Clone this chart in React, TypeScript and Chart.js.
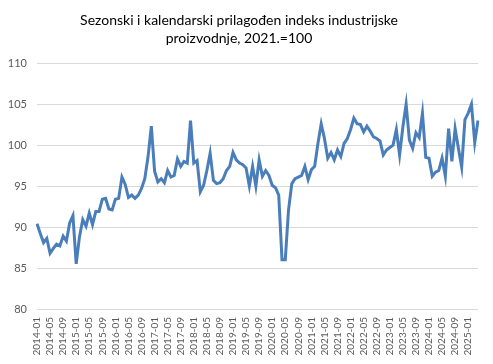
import React, { useEffect, useRef } from "react";
import { Chart, registerables } from "chart.js";

Chart.register(...registerables);

const titleLines = ["Sezonski i kalendarski prilagođen indeks industrijske", "proizvodnje, 2021.=100"];

const startYear = 2014;
const startMonth = 1;

const values: number[] = [
  90.4, 89.2, 88.1, 88.6, 86.8, 87.4, 87.9, 87.7, 88.9, 88.3, 90.5, 91.4,
  85.5, 88.8, 90.9, 90.1, 91.7, 90.3, 91.9, 91.9, 93.4, 93.5, 92.2, 92.1,
  93.4, 93.5, 96.1, 95.2, 93.6, 93.9, 93.5, 93.9, 94.7, 95.9, 98.6, 102.3,
  96.8, 95.5, 95.9, 95.4, 96.9, 96.1, 96.3, 98.3, 97.4, 98.0, 97.8, 103.0,
  97.8, 98.1, 94.3, 95.1, 96.9, 99.0, 95.7, 95.3, 95.4, 95.9, 96.9, 97.4,
  99.1, 98.2, 97.8, 97.6, 97.2, 95.0, 97.4, 95.0, 98.2, 96.2, 96.9, 96.3,
  95.1, 94.8, 93.9, 86.0, 86.0, 92.1, 95.3, 95.9, 96.1, 96.3, 97.4, 95.8,
  97.0, 97.4, 100.2, 102.6, 100.8, 98.4, 99.1, 98.2, 99.4, 98.6, 100.2, 100.8,
  101.9, 103.3, 102.6, 102.5, 101.6, 102.3, 101.7, 101.0, 100.8, 100.5, 98.8, 99.4,
  99.7, 100.0, 101.9, 98.8, 102.2, 105.0, 100.6, 99.6, 101.5, 100.9, 103.9, 98.5,
  98.4, 96.2, 96.7, 96.9, 98.4, 96.2, 102.0, 98.0, 102.0, 99.6, 97.3, 103.1,
  103.9, 105.0, 100.3, 103.0,
];

const categories: string[] = values.map((_, i) => {
  const m = startMonth - 1 + i;
  const y = startYear + Math.floor(m / 12);
  const mm = (m % 12) + 1;
  return `${y}-${mm < 10 ? "0" + mm : mm}`;
});

const yMin = 80;
const yMax = 110;
const yStep = 5;
const labelEvery = 4;

const FONT = "Lato, 'Open Sans', sans-serif";

export default function App() {
  const ref = useRef<HTMLCanvasElement>(null);
  useEffect(() => {
    if (!ref.current) return;
    const chart = new Chart(ref.current, {
      type: "line",
      data: {
        labels: categories,
        datasets: [
          {
            data: values,
            borderColor: "#4a7ebb",
            borderWidth: 3,
            pointRadius: 0,
            tension: 0,
            fill: false,
          },
        ],
      },
      options: {
        animation: false,
        responsive: false,
        maintainAspectRatio: false,
        layout: { padding: { left: 0, right: 15, top: 0, bottom: 0 } },
        plugins: {
          legend: { display: false },
          tooltip: { enabled: false },
          title: {
            display: true,
            text: titleLines,
            color: "#000000",
            font: { family: FONT, size: 14, weight: "normal", lineHeight: 1.29 },
            padding: { top: 11, bottom: 16 },
          },
        },
        scales: {
          x: {
            type: "category",
            offset: false,
            grid: { display: false, drawTicks: false },
            border: { display: false },
            ticks: {
              autoSkip: false,
              maxRotation: 90,
              minRotation: 90,
              padding: 8,
              color: "#595959",
              font: { family: FONT, size: 10 },
              callback: (_v: any, i: number) => (i % labelEvery === 0 ? categories[i] : null),
            },
            afterFit: (s: any) => {
              s.height = 55;
            },
          },
          y: {
            min: yMin,
            max: yMax,
            grid: { color: "#d9d9d9", lineWidth: 1, drawTicks: false },
            border: { display: false },
            ticks: {
              stepSize: yStep,
              padding: 10,
              color: "#595959",
              font: { family: FONT, size: 11 },
            },
            afterFit: (s: any) => {
              s.width = 37;
            },
          },
        },
      },
    });
    return () => chart.destroy();
  }, []);
  return (
    <div style={{ position: "fixed", left: 0, top: 0, width: 493, height: 364, background: "#fff" }}>
      <canvas ref={ref} width={493} height={364} style={{ width: 493, height: 364 }} />
    </div>
  );
}
